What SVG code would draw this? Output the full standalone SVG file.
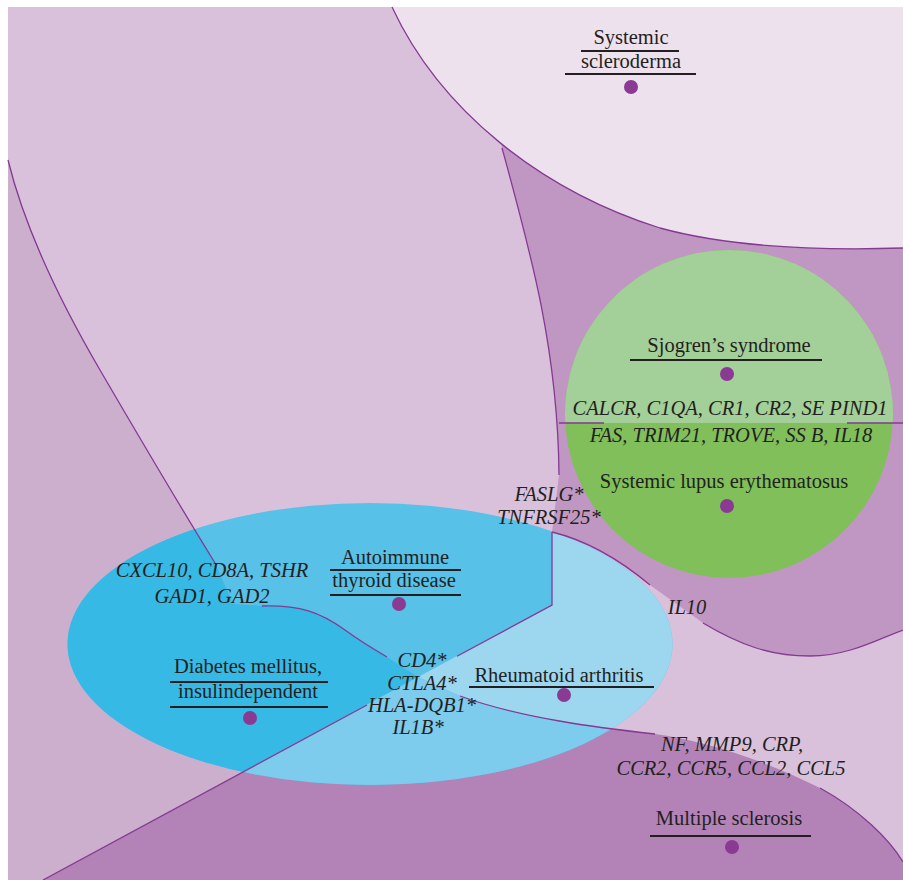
<svg xmlns="http://www.w3.org/2000/svg" width="903" height="880" viewBox="0 0 903 880">
<defs>
<style>
.t{font-family:"Liberation Serif","Times New Roman",serif;font-size:20.5px;fill:#231f20;text-anchor:middle}
.i{font-style:italic}
.u{stroke:#231f20;stroke-width:2.2;fill:none}
.b{fill:none;stroke:#853a92;stroke-width:1.3}
.d{fill:#8b3a93}
</style>
<clipPath id="ell"><ellipse cx="370" cy="644" rx="302.5" ry="141"/></clipPath>
</defs>
<rect width="903" height="880" fill="#fff"/>
<g id="regions">
<rect x="8" y="7" width="895" height="873" fill="#d9c1dc"/>
<path d="M8,160 Q30,250 100,370 T215,563 L233,604 L262,606 C300,605 320,612 345,630 C360,641 375,650 387,657 L418,677 L43,880 L8,880 Z" fill="#ccaecd"/>
<path d="M480,7 L502,148 C530,250 558,350 559,475 L552,532 C585,540 620,560 650,585 L703,623 C740,645 770,656 810,656 C850,656 880,638 903,630 L903,7 Z" fill="#c097c3"/>
<path d="M392,7 C440,110 540,190 660,228 C740,250 840,250 903,248 L903,7 Z" fill="#ede1ee"/>
<path d="M43,880 L418,677 L460,696 C520,718 600,728 655,734 C700,740 760,758 820,788 C860,810 890,840 903,862 L903,880 Z" fill="#b383b8"/>
<circle cx="729" cy="414" r="164" fill="#80bf5a"/>
<path d="M565.25,423 A164,164 0 1 1 892.75,423 Z" fill="#a3cf98"/>
<ellipse cx="370" cy="644" rx="302.5" ry="141" fill="#57c1e8"/>
<g clip-path="url(#ell)">
<path d="M8,160 Q30,250 100,370 T215,563 L233,604 L262,606 C300,605 320,612 345,630 C360,641 375,650 387,657 L418,677 L43,880 L8,880 Z" fill="#37b9e5"/>
<path d="M418,677 L552,605 L552,532 C585,540 620,560 650,585 L720,600 L720,740 L655,734 C600,728 520,718 460,696 Z" fill="#9dd6ef"/>
<path d="M43,880 L418,677 L460,696 C520,718 600,728 655,734 C700,740 760,758 820,788 C860,810 890,840 903,862 L903,880 Z" fill="#7dcbed"/>
</g>
</g>
<g id="connectors">
<path class="b" d="M392,7 C440,110 540,190 660,228 C740,250 840,250 903,248"/>
<path class="b" d="M8,160 Q30,250 100,370 T215,563"/>
<path class="b" d="M502,148 C530,250 558,350 559,475"/>
<path class="b" d="M559,423 H604 M847,423 H903"/>
<path class="b" d="M552,532 C585,540 620,560 650,585"/>
<path class="b" d="M552,532 V605 L457,656.3"/>
<path class="b" d="M367,705 L43,880"/>
<path class="b" d="M262,606 C300,605 320,612 345,630 C360,641 375,650 387,657"/>
<path class="b" d="M460,696 C520,718 600,728 655,734"/>
<path class="b" d="M703,623 C740,645 770,656 810,656 C850,656 880,638 903,630"/>
<path class="b" d="M820,788 C860,810 890,840 903,862"/>
</g>
<g id="systemic-scleroderma">
<text class="t" x="631" y="44">Systemic</text>
<line class="u" x1="581" y1="51" x2="679" y2="51"/>
<text class="t" x="631" y="68">scleroderma</text>
<line class="u" x1="565" y1="74" x2="696" y2="74"/>
<circle class="d" cx="631" cy="87" r="7"/>
</g>
<g id="sjogrens-syndrome">
<text class="t" x="729" y="352">Sjogren’s syndrome</text>
<line class="u" x1="630" y1="360" x2="822" y2="360"/>
<circle class="d" cx="727" cy="374" r="7"/>
</g>
<g id="genes-sjogren-sle">
<text class="t i" x="730" y="415">CALCR, C1QA, CR1, CR2, SE PIND1</text>
<text class="t i" x="731" y="442">FAS, TRIM21, TROVE, SS B, IL18</text>
</g>
<g id="systemic-lupus-erythematosus">
<text class="t" x="724" y="488">Systemic lupus erythematosus</text>
<circle class="d" cx="727" cy="506" r="7"/>
</g>
<g id="genes-fas">
<text class="t i" x="549" y="501">FASLG*</text>
<text class="t i" x="549" y="524">TNFRSF25*</text>
</g>
<g id="genes-il10">
<text class="t i" x="687" y="614">IL10</text>
</g>
<g id="autoimmune-thyroid-disease">
<text class="t" x="395" y="564">Autoimmune</text>
<line class="u" x1="330" y1="570" x2="461" y2="570"/>
<text class="t" x="394" y="587">thyroid disease</text>
<line class="u" x1="330" y1="595" x2="461" y2="595"/>
<circle class="d" cx="399" cy="604" r="7"/>
</g>
<g id="genes-thyroid-dm">
<text class="t i" x="212" y="577">CXCL10, CD8A, TSHR</text>
<text class="t i" x="212" y="603">GAD1, GAD2</text>
</g>
<g id="diabetes-mellitus">
<text class="t" x="248" y="673">Diabetes mellitus,</text>
<line class="u" x1="170" y1="682" x2="328" y2="682"/>
<text class="t" x="248" y="698">insulindependent</text>
<line class="u" x1="170" y1="707" x2="328" y2="707"/>
<circle class="d" cx="250" cy="718" r="7"/>
</g>
<g id="genes-center">
<text class="t i" x="422" y="667">CD4*</text>
<text class="t i" x="422" y="690">CTLA4*</text>
<text class="t i" x="422" y="712">HLA-DQB1*</text>
<text class="t i" x="418" y="734">IL1B*</text>
</g>
<g id="rheumatoid-arthritis">
<text class="t" x="559" y="682">Rheumatoid arthritis</text>
<line class="u" x1="469" y1="687" x2="654" y2="687"/>
<circle class="d" cx="564" cy="695" r="7"/>
</g>
<g id="genes-ms">
<text class="t i" x="732" y="751">NF, MMP9, CRP,</text>
<text class="t i" x="731" y="775">CCR2, CCR5, CCL2, CCL5</text>
</g>
<g id="multiple-sclerosis">
<text class="t" x="729" y="825">Multiple sclerosis</text>
<line class="u" x1="650" y1="836" x2="811" y2="836"/>
<circle class="d" cx="732" cy="847" r="7"/>
</g>
</svg>
